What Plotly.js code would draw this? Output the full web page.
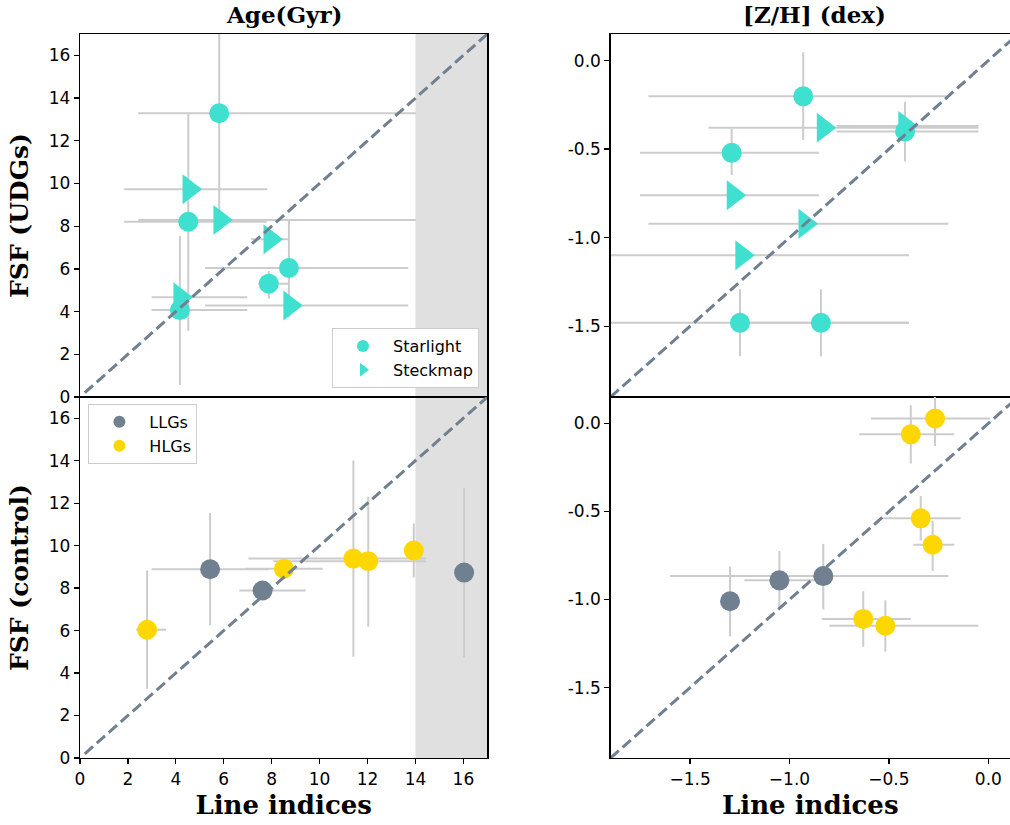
<!DOCTYPE html>
<html><head><meta charset="utf-8">
<script src="https://cdn.plot.ly/plotly-3.0.1.min.js"></script>
<style>html,body{margin:0;padding:0;background:#fff;overflow:hidden}#chart{width:1010px;height:825px}</style>
</head><body><div id="chart"></div>
<script>
// ---------- Top-left: Age, UDGs ----------
const ageStarX   = [5.81, 4.52, 4.17, 7.88, 8.72];
const ageStarY   = [13.29, 8.21, 4.07, 5.31, 6.04];
const ageStarXm  = [3.38, 2.68, 1.18, 0.44, 3.50];
const ageStarXp  = [8.21, 3.27, 2.81, 0.82, 4.98];
const ageStarYm  = [5.00, 5.11, 3.51, 0.71, 2.28];
const ageStarYp  = [4.20, 5.03, 3.47, 0.59, 2.25];

const ageSteckX  = [4.55, 5.84, 7.93, 4.17, 8.76];
const ageSteckY  = [9.73, 8.29, 7.39, 4.67, 4.29];
const ageSteckXm = [2.71, 3.41, 0.80, 1.18, 3.54];
const ageSteckXp = [3.27, 8.18, 0.77, 2.81, 4.94];

// ---------- Top-right: [Z/H], UDGs ----------
const zhStarX    = [-0.931, -1.291, -0.419, -1.249, -0.842];
const zhStarY    = [-0.202, -0.521, -0.400, -1.481, -1.481];
const zhStarXm   = [0.779, 0.461, 0.344, 0.850, 0.440];
const zhStarXp   = [0.722, 0.439, 0.369, 0.850, 0.443];
const zhStarYm   = [0.247, 0.126, 0.170, 0.189, 0.189];
const zhStarYp   = [0.249, 0.134, 0.168, 0.189, 0.189];

const zhSteckX   = [-0.830, -0.420, -1.283, -0.922, -1.240];
const zhSteckY   = [-0.380, -0.370, -0.760, -0.921, -1.100];
const zhSteckXm  = [0.578, 0.343, 0.469, 0.788, 0.840];
const zhSteckXp  = [0.780, 0.370, 0.431, 0.721, 0.841];

// ---------- Bottom-left: Age, control ----------
const ageLLGX  = [5.43, 7.62, 16.03];
const ageLLGY  = [8.89, 7.89, 8.73];
const ageLLGXm = [2.44, 0.97, 0.0];
const ageLLGXp = [2.44, 1.80, 0.0];
const ageLLGYm = [2.64, 0.0, 3.99];
const ageLLGYp = [2.65, 0.0, 4.00];

const ageHLGX  = [2.80, 8.51, 11.41, 12.03, 13.93];
const ageHLGY  = [6.04, 8.91, 9.39, 9.27, 9.77];
const ageHLGXm = [0.46, 1.62, 4.38, 3.96, 0.0];
const ageHLGXp = [0.79, 1.62, 3.03, 2.41, 0.0];
const ageHLGYm = [2.78, 0.0, 4.62, 3.09, 1.27];
const ageHLGYp = [2.79, 0.0, 4.62, 3.05, 1.27];

// ---------- Bottom-right: [Z/H], control ----------
const zhLLGX  = [-1.299, -1.051, -0.830];
const zhLLGY  = [-1.010, -0.891, -0.867];
const zhLLGXm = [0.0, 0.176, 0.771];
const zhLLGXp = [0.0, 0.176, 0.629];
const zhLLGYm = [0.198, 0.151, 0.190];
const zhLLGYp = [0.198, 0.166, 0.183];

const zhHLGX  = [-0.390, -0.268, -0.340, -0.280, -0.629, -0.518];
const zhHLGY  = [-0.062, 0.028, -0.539, -0.689, -1.110, -1.149];
const zhHLGXm = [0.259, 0.322, 0.188, 0.097, 0.209, 0.282];
const zhHLGXp = [0.219, 0.277, 0.201, 0.109, 0.239, 0.468];
const zhHLGYm = [0.166, 0.156, 0.126, 0.149, 0.158, 0.147];
const zhHLGYp = [0.165, 0.156, 0.127, 0.137, 0.157, 0.145];

// one-to-one lines, shaded region, ticks, labels
const diagAge = [0.2, 17];
const diagZH  = [-1.9, 0.15];
const shadeAge = [14, 17];
const ageTicks = [0, 2, 4, 6, 8, 10, 12, 14, 16];
const zhTickVals = [0, -0.5, -1.0, -1.5];
const zhTickText = ['0.0', '-0.5', '-1.0', '-1.5'];
const colTitles = ['Age(Gyr)', '[Z/H] (dex)'];
const rowTitles = ['FSF (UDGs)', 'FSF (control)'];
const xTitle = 'Line indices';
const names = ['Starlight', 'Steckmap', 'LLGs', 'HLGs'];

// ---------- styling ----------
const TURQ = '#40E0D0', GOLD = '#FFD700', SLATE = '#708090', ERR = '#cccccc';

function errTrace(x, y, xm, xp, ym, yp, xa, ya) {
  const t = {type: 'scatter', mode: 'markers', x: x, y: y, xaxis: xa, yaxis: ya,
    marker: {size: 1, opacity: 0}, showlegend: false, hoverinfo: 'skip',
    error_x: {type: 'data', symmetric: false, array: xp, arrayminus: xm, color: ERR, thickness: 2, width: 0}};
  if (ym) t.error_y = {type: 'data', symmetric: false, array: yp, arrayminus: ym, color: ERR, thickness: 2, width: 0};
  else t.error_y = {visible: false};
  return t;
}
function markTrace(x, y, xa, ya, color, symbol, size, name, legend) {
  return {type: 'scatter', mode: 'markers', x: x, y: y, xaxis: xa, yaxis: ya, name: name,
    marker: {color: color, symbol: symbol, size: size, line: {width: 0}},
    showlegend: !!legend, legend: legend || 'legend'};
}
function diagTrace(d, xa, ya) {
  return {type: 'scatter', mode: 'lines', x: d, y: d, xaxis: xa, yaxis: ya, showlegend: false,
    hoverinfo: 'skip', line: {color: SLATE, width: 3, dash: '11px,5px'}};
}

const traces = [
  // top-left
  errTrace(ageStarX, ageStarY, ageStarXm, ageStarXp, ageStarYm, ageStarYp, 'x', 'y'),
  errTrace(ageSteckX, ageSteckY, ageSteckXm, ageSteckXp, null, null, 'x', 'y'),
  markTrace(ageStarX, ageStarY, 'x', 'y', TURQ, 'circle', 20, names[0], 'legend'),
  markTrace(ageSteckX, ageSteckY, 'x', 'y', TURQ, 'triangle-right', 26, names[1], 'legend'),
  diagTrace(diagAge, 'x', 'y'),
  // top-right
  errTrace(zhStarX, zhStarY, zhStarXm, zhStarXp, zhStarYm, zhStarYp, 'x2', 'y2'),
  errTrace(zhSteckX, zhSteckY, zhSteckXm, zhSteckXp, null, null, 'x2', 'y2'),
  markTrace(zhStarX, zhStarY, 'x2', 'y2', TURQ, 'circle', 20, names[0]),
  markTrace(zhSteckX, zhSteckY, 'x2', 'y2', TURQ, 'triangle-right', 26, names[1]),
  diagTrace(diagZH, 'x2', 'y2'),
  // bottom-left
  errTrace(ageLLGX, ageLLGY, ageLLGXm, ageLLGXp, ageLLGYm, ageLLGYp, 'x3', 'y3'),
  errTrace(ageHLGX, ageHLGY, ageHLGXm, ageHLGXp, ageHLGYm, ageHLGYp, 'x3', 'y3'),
  markTrace(ageLLGX, ageLLGY, 'x3', 'y3', SLATE, 'circle', 20, names[2], 'legend2'),
  markTrace(ageHLGX, ageHLGY, 'x3', 'y3', GOLD, 'circle', 20, names[3], 'legend2'),
  diagTrace(diagAge, 'x3', 'y3'),
  // bottom-right
  errTrace(zhLLGX, zhLLGY, zhLLGXm, zhLLGXp, zhLLGYm, zhLLGYp, 'x4', 'y4'),
  errTrace(zhHLGX, zhHLGY, zhHLGXm, zhHLGXp, zhHLGYm, zhHLGYp, 'x4', 'y4'),
  markTrace(zhLLGX, zhLLGY, 'x4', 'y4', SLATE, 'circle', 20, names[2]),
  markTrace(zhHLGX, zhHLGY, 'x4', 'y4', GOLD, 'circle', 20, names[3]),
  diagTrace(diagZH, 'x4', 'y4')
];

const tickFont = {family: 'DejaVu Sans', size: 17, color: 'black'};
const yTitleFont = {family: 'DejaVu Serif', size: 25, weight: 'bold', color: 'black'};
const xTitleFont = {family: 'DejaVu Serif', size: 26, weight: 'bold', color: 'black'};
const colFont = {family: 'DejaVu Serif', size: 23, weight: 'bold', color: 'black'};
const base = {showline: true, linecolor: 'black', linewidth: 1.3, mirror: true, ticks: 'outside',
  ticklen: 5, tickwidth: 1.3, tickcolor: 'black', showgrid: false, zeroline: false, tickfont: tickFont};

const L = [0, 0.438], R = [0.5705, 1], T = [0.4986, 1], B = [0, 0.4986];

const layout = {
  width: 1010, height: 825,
  margin: {l: 80, r: 0, t: 34, b: 67},
  paper_bgcolor: 'white', plot_bgcolor: 'white',
  xaxis: Object.assign({}, base, {domain: L, anchor: 'y', range: [0, 17], showticklabels: false, ticks: ''}),
  yaxis: Object.assign({}, base, {domain: T, anchor: 'x', range: [0, 17], tickvals: ageTicks,
    title: {text: rowTitles[0], font: yTitleFont, standoff: 13}}),
  xaxis2: Object.assign({}, base, {domain: R, anchor: 'y2', range: [-1.9, 0.109], showticklabels: false, ticks: ''}),
  yaxis2: Object.assign({}, base, {domain: T, anchor: 'x2', range: [-1.9, 0.15], mirror: false,
    tickvals: zhTickVals, ticktext: zhTickText}),
  xaxis3: Object.assign({}, base, {domain: L, anchor: 'y3', range: [0, 17], tickvals: ageTicks,
    title: {text: xTitle, font: xTitleFont, standoff: 8}}),
  yaxis3: Object.assign({}, base, {domain: B, anchor: 'x3', range: [0, 17], tickvals: ageTicks,
    title: {text: rowTitles[1], font: yTitleFont, standoff: 13}}),
  xaxis4: Object.assign({}, base, {domain: R, anchor: 'y4', range: [-1.9, 0.109], dtick: 0.5, tick0: 0,
    tickformat: '.1f', title: {text: xTitle, font: xTitleFont, standoff: 8}}),
  yaxis4: Object.assign({}, base, {domain: B, anchor: 'x4', range: [-1.9, 0.15], mirror: false,
    tickvals: zhTickVals, ticktext: zhTickText}),
  shapes: [
    {type: 'rect', xref: 'x', yref: 'y domain', x0: shadeAge[0], x1: shadeAge[1], y0: 0, y1: 1,
      fillcolor: '#e0e0e0', line: {width: 0}, layer: 'below'},
    {type: 'rect', xref: 'x3', yref: 'y3 domain', x0: shadeAge[0], x1: shadeAge[1], y0: 0, y1: 1,
      fillcolor: '#e0e0e0', line: {width: 0}, layer: 'below'}
  ],
  annotations: [
    {text: colTitles[0], xref: 'paper', yref: 'paper', x: 0.2194, y: 1.027, xanchor: 'center', yanchor: 'middle',
      showarrow: false, font: colFont},
    {text: colTitles[1], xref: 'paper', yref: 'paper', x: 0.790, y: 1.027, xanchor: 'center', yanchor: 'middle',
      showarrow: false, font: colFont}
  ],
  legend: {x: 0.429, xanchor: 'right', y: 0.511, yanchor: 'bottom', bgcolor: 'white',
    bordercolor: '#cccccc', borderwidth: 1, itemsizing: 'constant', itemwidth: 50,
    font: {family: 'DejaVu Sans', size: 16, color: 'black'}},
  legend2: {x: 0.009, xanchor: 'left', y: 0.489, yanchor: 'top', bgcolor: 'white',
    bordercolor: '#cccccc', borderwidth: 1, itemsizing: 'constant', itemwidth: 50,
    font: {family: 'DejaVu Sans', size: 16, color: 'black'}}
};

Plotly.newPlot('chart', traces, layout, {displayModeBar: false, staticPlot: true});
</script></body></html>
